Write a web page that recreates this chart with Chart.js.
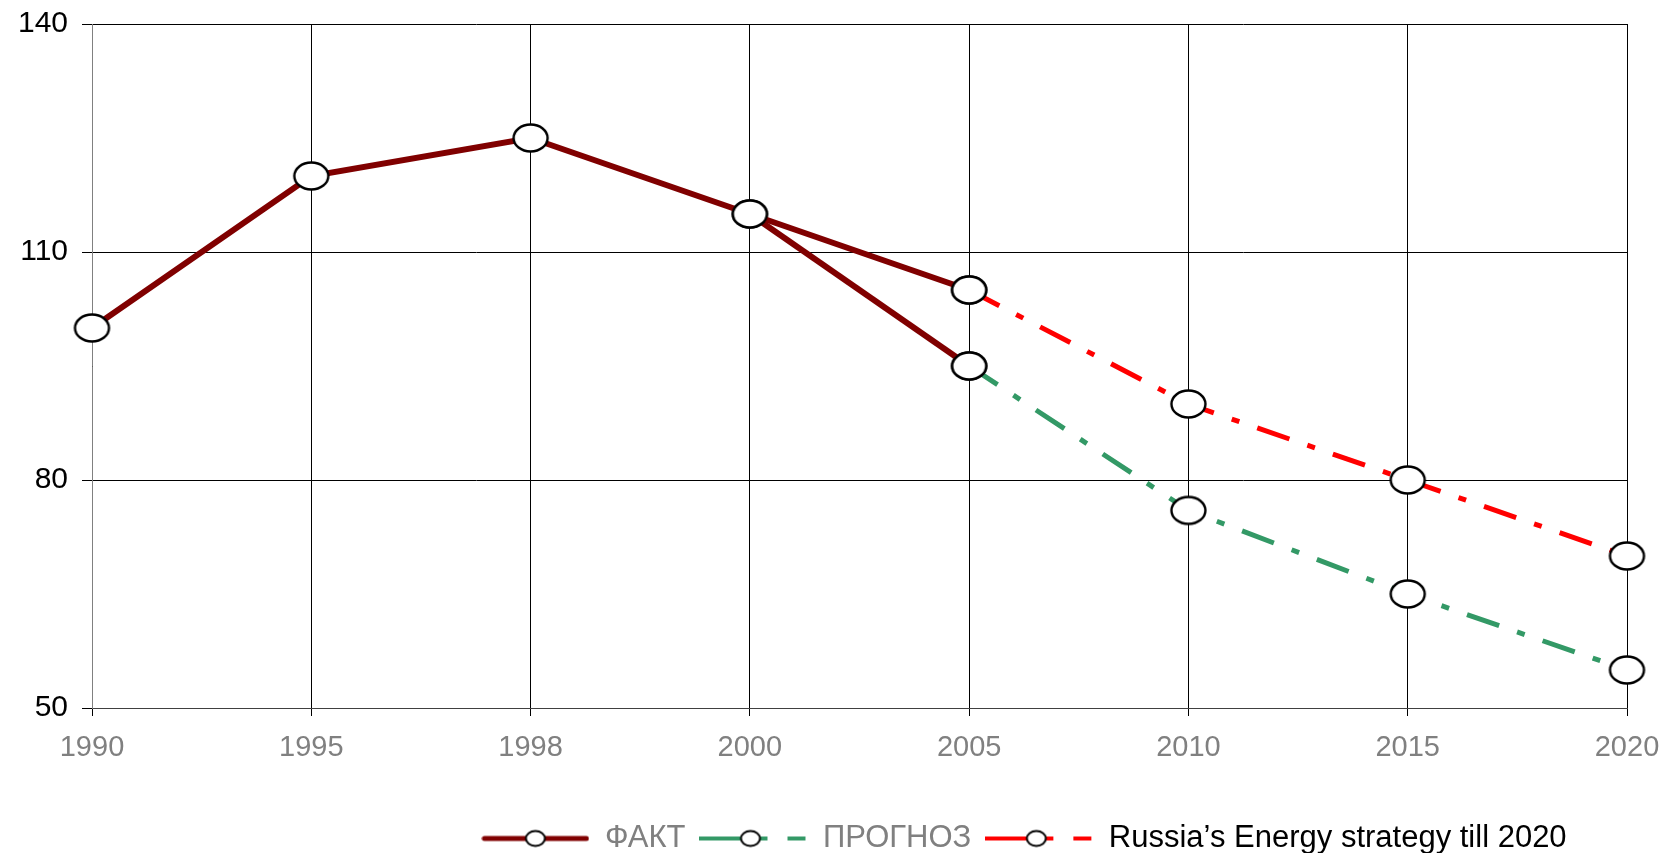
<!DOCTYPE html>
<html>
<head>
<meta charset="utf-8">
<script src="https://cdn.jsdelivr.net/npm/chart.js@4.4.1/dist/chart.umd.min.js"></script>
<style>
  html, body { margin: 0; padding: 0; background: #fff; }
  #wrap { width: 1673px; height: 853px; }
</style>
</head>
<body>
<div id="wrap"><canvas id="energy-chart" width="1673" height="853"></canvas></div>
<script>
// data
const years = ["1990", "1995", "1998", "2000", "2005", "2010", "2015", "2020"];
const factMain = [100, 120, 125, 115, 105, null, null, null];
const factBranch = [null, null, null, 115, 95, null, null, null];
const forecast = [null, null, null, null, 95, 76, 65, 55];
const strategy = [null, null, null, null, 105, 90, 80, 70];
const yTicks = [50, 80, 110, 140];

const legendNames = ["ФАКТ", "ПРОГНОЗ", "Russia\u2019s Energy strategy till 2020"];

const DARK_RED = "#800000";
const GREEN = "#339966";
const RED = "#ff0000";
const DASH_DOT = [34, 19, 8, 19];
const LEGEND_CENTER = 1024;
const LEGEND_DROP = 11;

Chart.defaults.font.family = "'Liberation Sans', Arial, sans-serif";

// white ellipse with black rim, used as point marker
function makeMarker(w, h, lw) {
  const c = document.createElement("canvas");
  c.width = Math.ceil(w + lw * 2);
  c.height = Math.ceil(h + lw * 2);
  const ctx = c.getContext("2d");
  ctx.beginPath();
  ctx.ellipse(c.width / 2, c.height / 2, w / 2, h / 2, 0, 0, Math.PI * 2);
  ctx.fillStyle = "#fff";
  ctx.fill();
  ctx.lineWidth = lw;
  ctx.strokeStyle = "#000";
  ctx.stroke();
  return c;
}

function makeSample(color, lw, dashed) {
  const c = document.createElement("canvas");
  c.width = 108;
  c.height = 22;
  const ctx = c.getContext("2d");
  const y = 11;
  ctx.strokeStyle = color;
  ctx.lineWidth = lw;
  ctx.beginPath();
  if (dashed) {
    ctx.moveTo(0, y); ctx.lineTo(68, y);
    ctx.moveTo(88, y); ctx.lineTo(106, y);
  } else {
    ctx.lineCap = "round";
    ctx.moveTo(3, y); ctx.lineTo(105, y);
  }
  ctx.stroke();
  const cx = dashed ? 51 : 54;
  ctx.beginPath();
  ctx.ellipse(cx, y, 9.5, 7.5, 0, 0, Math.PI * 2);
  ctx.fillStyle = "#fff";
  ctx.fill();
  ctx.lineWidth = 2;
  ctx.strokeStyle = "#000";
  ctx.stroke();
  return c;
}

const marker = makeMarker(34, 27, 2.4);
const samples = [
  makeSample(DARK_RED, 5, false),
  makeSample(GREEN, 4, true),
  makeSample(RED, 4, true),
];
const legendColors = ["#808080", "#808080", "#000"];

const legendShift = {
  id: "legendShift",
  afterLayout(chart) {
    const lg = chart.legend;
    if (!lg) return;
    const dx = LEGEND_CENTER - (lg.left + lg.right) / 2;
    lg.left += dx;
    lg.right += dx;
    lg.top += LEGEND_DROP;
    lg.bottom += LEGEND_DROP;
  },
};

function lineSet(label, data, color, width, dash) {
  return {
    label,
    data,
    borderColor: color,
    backgroundColor: color,
    borderWidth: width,
    borderDash: dash || [],
    pointStyle: marker,
    pointRadius: 15,
    tension: 0,
    spanGaps: false,
    clip: false,
  };
}

new Chart(document.getElementById("energy-chart"), {
  type: "line",
  data: {
    labels: years,
    datasets: [
      lineSet(legendNames[0], factMain, DARK_RED, 6),
      lineSet("fact-branch", factBranch, DARK_RED, 6),
      lineSet(legendNames[1], forecast, GREEN, 5, DASH_DOT),
      lineSet(legendNames[2], strategy, RED, 5, DASH_DOT),
    ],
  },
  options: {
    responsive: false,
    devicePixelRatio: 1,
    animation: false,
    events: [],
    layout: { padding: { top: 24, right: 46, bottom: 0, left: 0 } },
    plugins: {
      tooltip: { enabled: false },
      legend: {
        position: "bottom",
        labels: {
          usePointStyle: true,
          pointStyleWidth: 108,
          padding: 14,
          font: { size: 31 },
          generateLabels: () =>
            legendNames.map((name, i) => ({
              text: name,
              pointStyle: samples[i],
              fontColor: legendColors[i],
              fillStyle: "transparent",
              strokeStyle: "transparent",
              lineWidth: 0,
              hidden: false,
              datasetIndex: i === 0 ? 0 : i + 1,
            })),
        },
      },
    },
    scales: {
      x: {
        grid: { color: "#000", lineWidth: 1, tickLength: 8 },
        border: { color: "#404040" },
        ticks: {
          color: "#808080",
          font: { size: 29 },
          padding: 15,
          maxRotation: 0,
          autoSkip: false,
        },
        afterFit: (s) => {
          s.height = 90;
          s.paddingLeft = 0;
          s.paddingRight = 0;
        },
      },
      y: {
        min: yTicks[0],
        max: yTicks[yTicks.length - 1],
        afterBuildTicks: (s) => { s.ticks = yTicks.map((v) => ({ value: v })); },
        grid: { color: "#000", lineWidth: 1, tickLength: 10 },
        border: { color: "#808080" },
        ticks: { color: "#000", font: { size: 30 }, padding: 14 },
        afterFit: (s) => {
          s.width = 92;
          s.paddingTop = 0;
          s.paddingBottom = 0;
        },
      },
    },
  },
  plugins: [legendShift],
});
</script>
</body>
</html>
